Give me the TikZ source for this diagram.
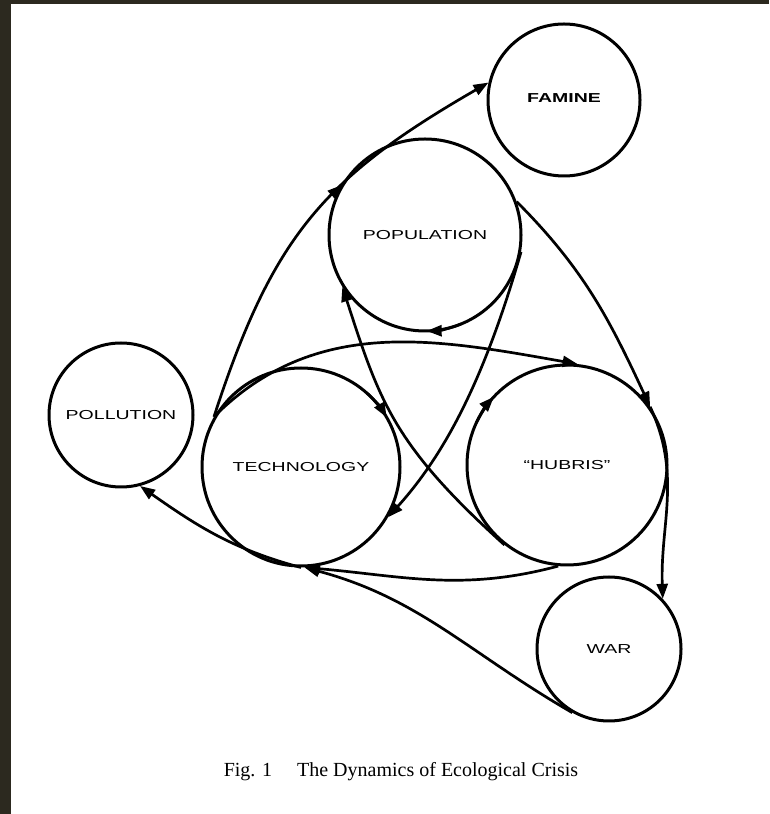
\documentclass[tikz,border=0pt]{standalone}
\usepackage{fontspec}
\setmainfont{Liberation Serif}
\newfontfamily\labelfont[FakeStretch=1.5]{Liberation Sans}
\usetikzlibrary{arrows.meta,decorations.markings}
\definecolor{frame}{RGB}{44,41,31}

\begin{document}
\begin{tikzpicture}[x=1pt,y=1pt,
  bubble/.style={circle,draw,line width=3pt,inner sep=0pt,
    font=\labelfont\fontsize{13}{15}\selectfont},
  link/.style={line width=2.7pt,-{Triangle[length=15pt,width=11pt]}},
  midtip/.style={postaction={decorate},decoration={markings,
    mark=at position #1 with {\arrow{Triangle[length=15pt,width=11pt]}}}}]
  \useasboundingbox (0,0) rectangle (769,814);
  \fill[white] (0,0) rectangle (769,814);
  \fill[frame] (0,0) rectangle (11,814);
  \fill[frame] (0,810) rectangle (769,814);

  \node[bubble,minimum size=152pt] (famine) at (564,714) {\raisebox{4pt}{\bfseries FAMINE}};
  \node[bubble,minimum size=192pt] (pop) at (425,579) {POPULATION};
  \node[bubble,minimum size=144pt] (pollu) at (121,399) {POLLUTION};
  \node[bubble,minimum size=198pt] (tech) at (301,347) {TECHNOLOGY};
  \node[bubble,minimum size=200pt] (hub) at (567,349) {“HUBRIS”};
  \node[bubble,minimum size=144pt] (war) at (609,165) {WAR};
  \node[font=\fontsize{20}{22}\selectfont] (caption) at (401,42)
    {Fig. 1\hspace{25pt}The Dynamics of Ecological Crisis};

  \draw[link,midtip=0.6] (tech.150) to[out=72,in=210,distance=190pt] (famine.167);
  \draw[link] (pop.20) to[out=-45,in=115] (hub.35);
  \draw[link] (hub.35) to[out=-65,in=92] (war.43);
  \draw[link] (tech.150) to[out=45,in=170] (hub.84);
  \draw[link] (hub.265) to[out=195,in=-5] (tech.272);
  \draw[link] (war.240) to[out=150,in=-15] (tech.272);
  \draw[link] (tech.270) to[out=165,in=-35] (pollu.-75);
  \draw[link] (hub.232) to[out=138,in=-72,out distance=150pt,in distance=120pt] (pop.212);
  \draw[link] (pop.350) to[out=254,in=48,out distance=140pt,in distance=80pt] (tech.330);

  \draw[link] (pop.center) ++(292:96) arc[start angle=292,end angle=271,radius=96];
  \draw[link] (tech.center) ++(48:99) arc[start angle=48,end angle=30,radius=99];
  \draw[link] (hub.center) ++(155:100) arc[start angle=155,end angle=137,radius=100];
\end{tikzpicture}
\end{document}
